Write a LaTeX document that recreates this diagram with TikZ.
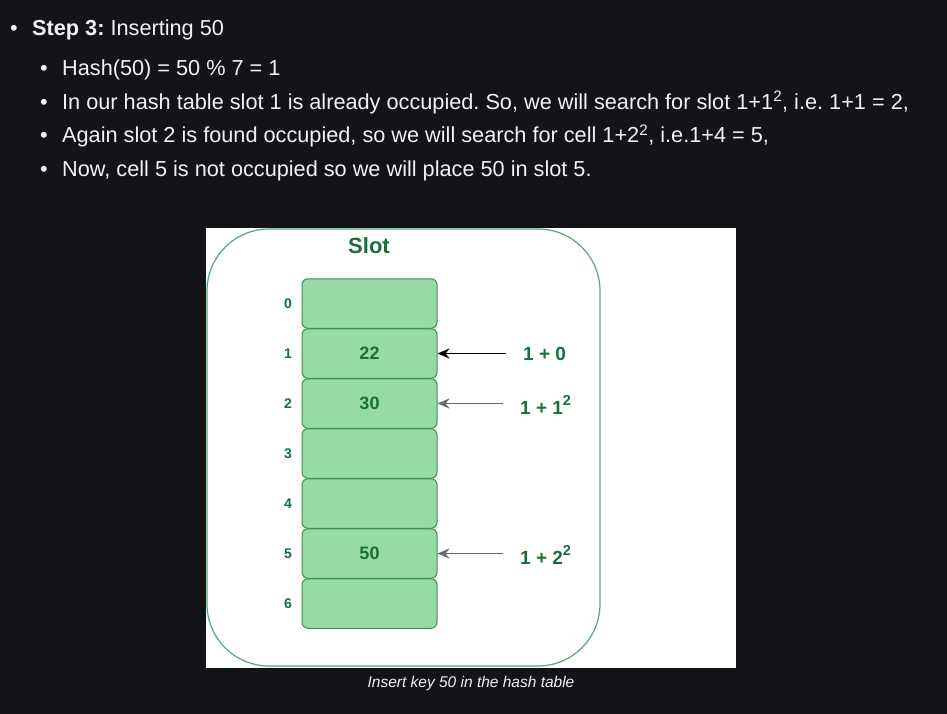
\documentclass[tikz,border=0pt]{standalone}
\usepackage{fontspec}
\setmainfont{Liberation Sans}
\usetikzlibrary{arrows.meta}
\definecolor{bgdark}{HTML}{131417}
\definecolor{txtlight}{HTML}{F2F2F2}
\definecolor{gdark}{HTML}{17703A}
\definecolor{gfill}{HTML}{97DBA4}
\definecolor{gline}{HTML}{3E8E58}
\definecolor{gouter}{HTML}{5BA57A}
\definecolor{arrgray}{HTML}{6A6A6A}
\newcommand{\mysup}[1]{\raisebox{0.45em}{\fontsize{14.5}{16}\selectfont #1}}
\tikzset{
  line/.style={anchor=base west, text=txtlight, inner sep=0pt, font=\fontsize{21.7}{26}\selectfont},
  cell/.style={draw=gline, fill=gfill, line width=1pt, rounded corners=6pt, minimum width=135pt, minimum height=49.5pt, inner sep=0pt, text=gdark, font=\fontsize{18}{21}\selectfont\bfseries},
  idx/.style={text=gdark, font=\fontsize{14}{16}\selectfont\bfseries, inner sep=0pt},
  lab/.style={text=gdark, font=\fontsize{19}{22}\selectfont\bfseries, inner sep=0pt, anchor=west},
  arr/.style={-{Stealth[length=12pt,width=10pt,inset=4pt]}, line width=1.8pt, shorten <=17pt},
}
\begin{document}
\frenchspacing
\begin{tikzpicture}[x=1pt,y=-1pt]
\useasboundingbox (0,0) rectangle (947,714);
\fill[bgdark] (0,0) rectangle (947,714);
% text block
\node[line] (b1) at (10,35.5) {•};
\node[line] (t1) at (32,35.5) {\textbf{Step 3:} Inserting 50};
\node[line] (b2) at (40,75.5) {•};
\node[line] (t2) at (62,75.5) {Hash(50) = 50 \% 7 = 1};
\node[line] (b3) at (40,109.5) {•};
\node[line] (t3) at (62,109.5) {In our hash table slot 1 is already occupied. So, we will search for slot 1+1\textsuperscript{2}, i.e. 1+1 = 2,};
\node[line] (b4) at (40,143) {•};
\node[line] (t4) at (62,143) {Again slot 2 is found occupied, so we will search for cell 1+2\textsuperscript{2}, i.e.1+4 = 5,};
\node[line] (b5) at (40,176.5) {•};
\node[line] (t5) at (62,176.5) {Now, cell 5 is not occupied so we will place 50 in slot 5.};
% image
\fill[white] (206,228) rectangle (736,668);
\draw[gouter, line width=1.2pt, rounded corners=62pt] (207,229) rectangle (600,666);
\node[text=gdark, font=\fontsize{22}{26}\selectfont\bfseries] (slot) at (369,246) {Slot};
\foreach \i/\v in {0/,1/22,2/30,3/,4/,5/50,6/}{
  \node[cell] (c\i) at (369.5,{303.5+50*\i}) {\v};
  \node[idx] (i\i) at (288,{303.5+50*\i}) {\i};
}
\node[lab] (l1) at (523,354) {1 + 0};
\node[lab] (l2) at (520,405) {1 + 1\mysup{2}};
\node[lab] (l5) at (520,555) {1 + 2\mysup{2}};
\draw[arr, black] (l1.west |- c1.east) -- (c1.east);
\draw[arr, arrgray] (l2.west |- c2.east) -- (c2.east);
\draw[arr, arrgray] (l5.west |- c5.east) -- (c5.east);
\node[text=txtlight, font=\fontsize{15.5}{18}\selectfont\itshape] (cap) at (471,683) {Insert key 50 in the hash table};
\end{tikzpicture}
\end{document}
